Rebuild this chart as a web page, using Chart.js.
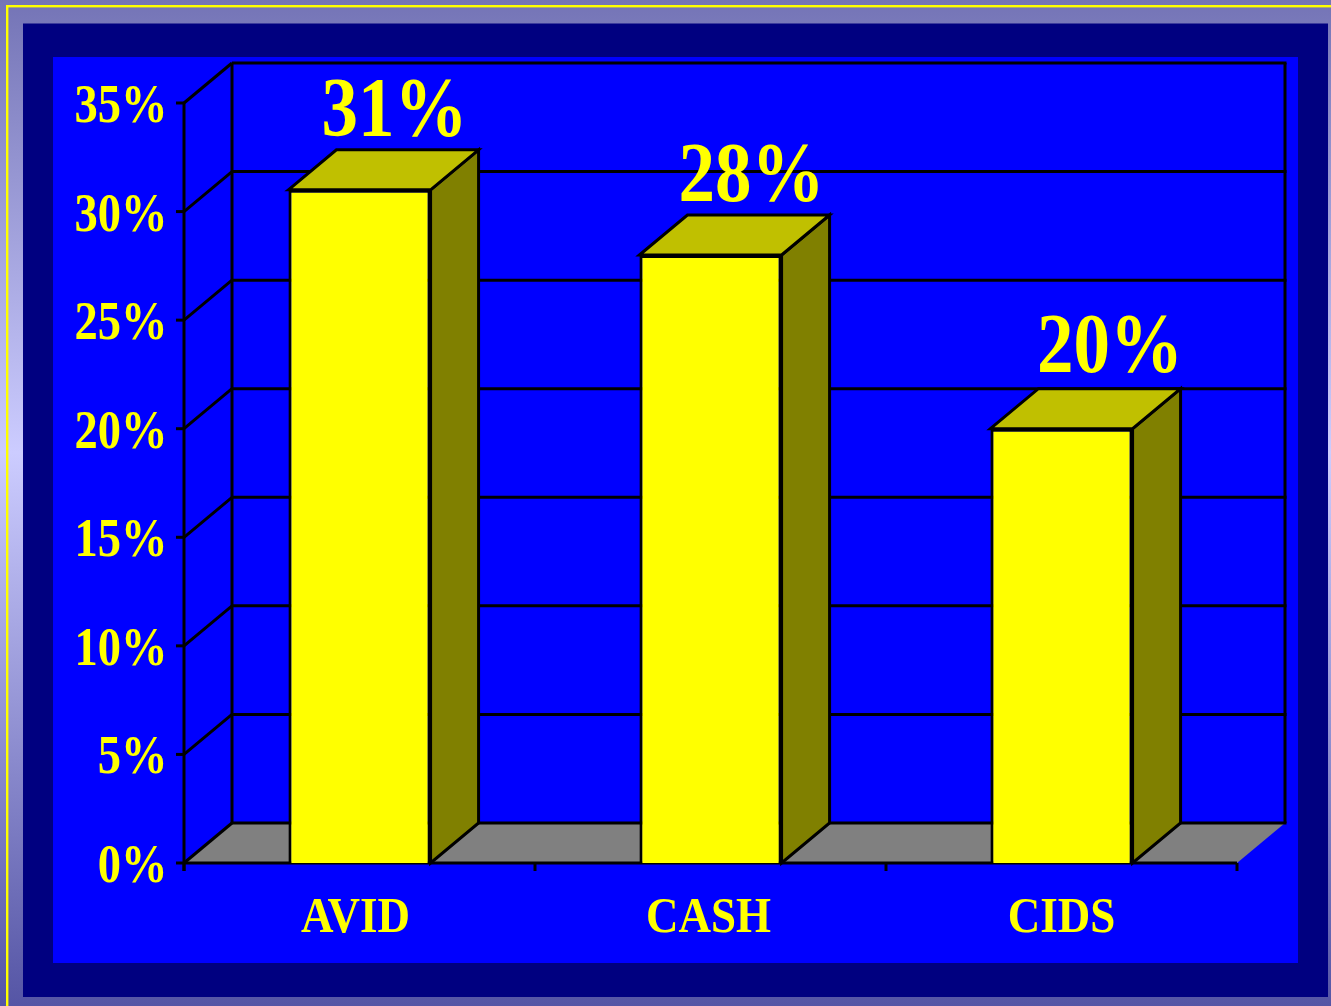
<!DOCTYPE html>
<html>
<head>
<meta charset="utf-8">
<style>html,body{margin:0;padding:0;background:#8080c0}canvas{display:block}</style>
<script src="https://cdn.jsdelivr.net/npm/chart.js@4"></script>
</head>
<body>
<canvas id="c" width="1331" height="1006"></canvas>
<script>
const categories = ['AVID', 'CASH', 'CIDS'];
const values = [31, 28, 20];
const valueLabels = ['31%', '28%', '20%'];
const axisMax = 35;
const axisStep = 5;

const DEPTH_X = 48, DEPTH_Y = -40;
const LINE = 3;
const FONT = 'bold SIZEpx "Liberation Serif"';
const labelShiftX = [11, 17, 24.5];
const labelGapY = [14, 14, 17];
const catShiftX = [-4, -2, 0];

function stretched(ctx, text, x, y, size, sy, align) {
  ctx.save();
  ctx.translate(x, y);
  ctx.scale(1, sy);
  ctx.font = FONT.replace('SIZE', size);
  ctx.fillStyle = '#ffff00';
  ctx.textAlign = align;
  ctx.textBaseline = 'alphabetic';
  ctx.fillText(text, 0, 0);
  ctx.restore();
}
function poly(ctx, pts, fill, stroke) {
  ctx.beginPath();
  pts.forEach((p, i) => i ? ctx.lineTo(p[0], p[1]) : ctx.moveTo(p[0], p[1]));
  ctx.closePath();
  if (fill) { ctx.fillStyle = fill; ctx.fill(); }
  if (stroke) { ctx.strokeStyle = '#000'; ctx.lineWidth = LINE; ctx.lineJoin = 'miter'; ctx.stroke(); }
}
function seg(ctx, x1, y1, x2, y2) {
  ctx.beginPath(); ctx.moveTo(x1, y1); ctx.lineTo(x2, y2);
  ctx.strokeStyle = '#000'; ctx.lineWidth = LINE; ctx.stroke();
}

const scene = {
  id: 'scene',
  beforeDraw(chart) {
    const ctx = chart.ctx, W = chart.width, H = chart.height;
    const g = ctx.createLinearGradient(0, 0, 0, H);
    g.addColorStop(0, '#7474b6');
    g.addColorStop(0.45, '#ccccff');
    g.addColorStop(1, '#5555a5');
    ctx.fillStyle = g; ctx.fillRect(0, 0, W, H);
    ctx.fillStyle = '#ffff00';
    ctx.fillRect(6, 5, W - 6, 2.4);
    ctx.fillRect(6, 5, 2.4, H - 5);
    ctx.fillStyle = '#000080'; ctx.fillRect(23, 23.5, 1305, 973.5);
    ctx.fillStyle = '#0000ff'; ctx.fillRect(53, 57, 1245, 906);
  },
  beforeDatasetsDraw(chart) {
    const ctx = chart.ctx, a = chart.chartArea;
    const x = chart.scales.x, y = chart.scales.y;
    const l = a.left, r = a.right, b = a.bottom, t = a.top;
    // floor
    poly(ctx, [[l, b], [r, b], [r + DEPTH_X, b + DEPTH_Y], [l + DEPTH_X, b + DEPTH_Y]], '#808080');
    // gridlines on both walls, plus tick marks
    y.ticks.forEach(tk => {
      const py = y.getPixelForValue(tk.value);
      seg(ctx, l + DEPTH_X, py + DEPTH_Y, r + DEPTH_X + LINE / 2, py + DEPTH_Y);
      seg(ctx, l, py, l + DEPTH_X, py + DEPTH_Y);
      seg(ctx, l - 8, py, l, py);
    });
    seg(ctx, l + DEPTH_X, t + DEPTH_Y, l + DEPTH_X, b + DEPTH_Y);
    seg(ctx, r + DEPTH_X, t + DEPTH_Y, r + DEPTH_X, b + DEPTH_Y);
    seg(ctx, l, t, l, b + 8);
    // front floor edge and category ticks
    seg(ctx, l, b, r, b);
    const step = (r - l) / categories.length;
    categories.forEach((c, i) => {
      const px = x.getPixelForTick(i);
      seg(ctx, px - step / 2, b, px - step / 2, b + 8);
      if (i === categories.length - 1) seg(ctx, px + step / 2, b, px + step / 2, b + 8);
    });
    // 3D faces of each bar, taken from the bar elements
    chart.getDatasetMeta(0).data.forEach(el => {
      const L = el.x - el.width / 2, R = el.x + el.width / 2, T = el.y, B = el.base;
      poly(ctx, [[R, T], [R + DEPTH_X, T + DEPTH_Y], [R + DEPTH_X, B + DEPTH_Y], [R, B]], '#808000', true);
      poly(ctx, [[L, T], [L + DEPTH_X, T + DEPTH_Y], [R + DEPTH_X, T + DEPTH_Y], [R, T]], '#c0c000', true);
    });
  },
  afterDatasetsDraw(chart) {
    const ctx = chart.ctx, a = chart.chartArea;
    const x = chart.scales.x, y = chart.scales.y;
    y.ticks.forEach(tk => {
      stretched(ctx, tk.label, a.left - 16.5, y.getPixelForValue(tk.value) + 19, 46.5, 1.16, 'right');
    });
    categories.forEach((c, i) => {
      stretched(ctx, c, x.getPixelForTick(i) + catShiftX[i], a.bottom + 69, 45, 1.14, 'center');
    });
    chart.getDatasetMeta(0).data.forEach((el, i) => {
      stretched(ctx, valueLabels[i], el.x + DEPTH_X / 2 + labelShiftX[i], el.y + DEPTH_Y - labelGapY[i], 73, 1.16, 'center');
    });
  }
};

new Chart(document.getElementById('c'), {
  type: 'bar',
  data: {
    labels: categories,
    datasets: [{
      data: values,
      backgroundColor: '#ffff00',
      borderColor: '#000000',
      borderWidth: LINE,
      barPercentage: 0.405,
      categoryPercentage: 1
    }]
  },
  options: {
    responsive: false,
    animation: false,
    events: [],
    layout: { padding: { left: 176, right: 94, top: 103, bottom: 135 } },
    plugins: { legend: { display: false }, tooltip: { enabled: false }, title: { display: false } },
    scales: {
      x: { grid: { display: false }, border: { display: false }, ticks: { display: false } },
      y: {
        min: 0, max: axisMax,
        grid: { display: false }, border: { display: false },
        ticks: { display: false, stepSize: axisStep, callback: v => v + '%' }
      }
    }
  },
  plugins: [scene]
});
</script>
</body>
</html>
